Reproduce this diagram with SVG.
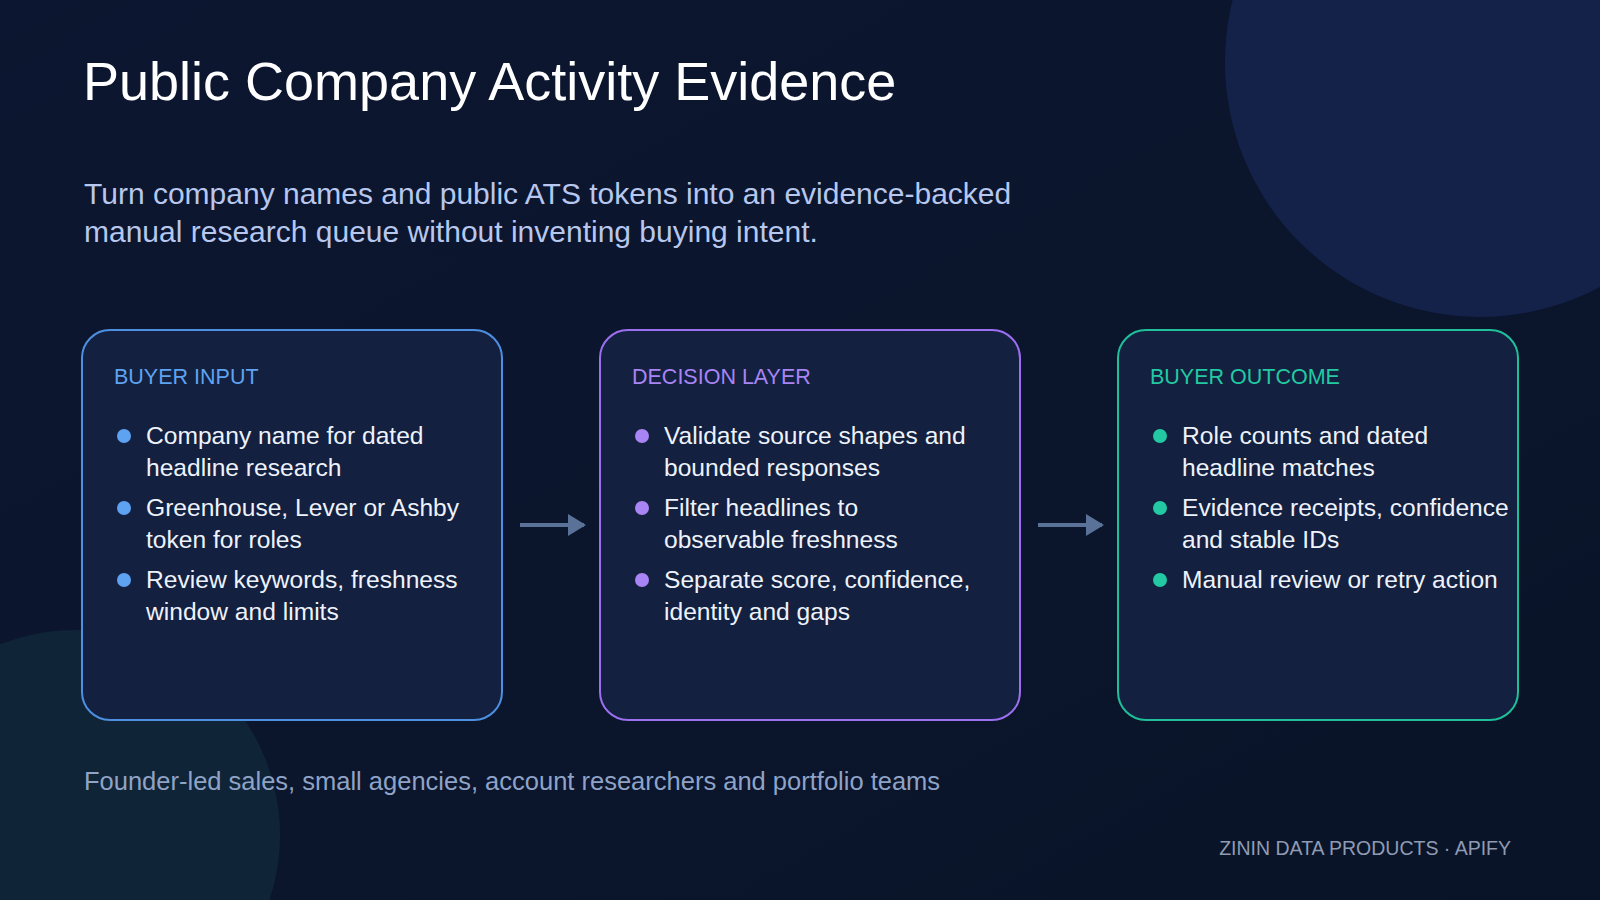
<svg xmlns="http://www.w3.org/2000/svg" width="1600" height="900" viewBox="0 0 1600 900">
<defs>
<linearGradient id="bg" x1="0" y1="0" x2="1" y2="1"><stop offset="0" stop-color="#0c1630"/><stop offset="1" stop-color="#0a1428"/></linearGradient>
<marker id="ah" markerWidth="18" markerHeight="22" refX="16" refY="11" orient="auto" markerUnits="userSpaceOnUse"><path d="M0,0 L18,11 L0,22 Z" fill="#5a7198"/></marker>
<style>
text{font-family:"Helvetica Neue","Liberation Sans",Arial,sans-serif}
.box{fill:#13203f;stroke-width:2}
.hd{font-size:21.5px}
.it{font-size:24.6px;fill:#eef2fb}
.conn{stroke:#5a7198;stroke-width:4;fill:none}
</style>
</defs>
<rect width="1600" height="900" fill="url(#bg)"/>
<circle cx="1480" cy="62" r="255" fill="#14224a"/>
<circle cx="75" cy="835" r="205" fill="#10283a" opacity="0.8"/>
<text x="83" y="100" font-size="54" fill="#ffffff">Public Company Activity Evidence</text>
<text x="84" y="204" font-size="30" fill="#b7c7ee">Turn company names and public ATS tokens into an evidence-backed</text>
<text x="84" y="242" font-size="30" fill="#b7c7ee">manual research queue without inventing buying intent.</text>
<g id="n1">
<rect class="box" x="82" y="330" width="420" height="390" rx="28" stroke="#4d8fe0"/>
<text class="hd" x="114" y="384" fill="#5ea3f2">BUYER INPUT</text>
<g fill="#5ea3f2"><circle cx="124" cy="436" r="7"/><circle cx="124" cy="508" r="7"/><circle cx="124" cy="580" r="7"/></g>
<text class="it" x="146" y="444">Company name for dated</text><text class="it" x="146" y="476">headline research</text>
<text class="it" x="146" y="516">Greenhouse, Lever or Ashby</text><text class="it" x="146" y="548">token for roles</text>
<text class="it" x="146" y="588">Review keywords, freshness</text><text class="it" x="146" y="620">window and limits</text>
</g>
<g id="n2">
<rect class="box" x="600" y="330" width="420" height="390" rx="28" stroke="#9b6ff0"/>
<text class="hd" x="632" y="384" fill="#a884f5">DECISION LAYER</text>
<g fill="#a884f5"><circle cx="642" cy="436" r="7"/><circle cx="642" cy="508" r="7"/><circle cx="642" cy="580" r="7"/></g>
<text class="it" x="664" y="444">Validate source shapes and</text><text class="it" x="664" y="476">bounded responses</text>
<text class="it" x="664" y="516">Filter headlines to</text><text class="it" x="664" y="548">observable freshness</text>
<text class="it" x="664" y="588">Separate score, confidence,</text><text class="it" x="664" y="620">identity and gaps</text>
</g>
<g id="n3">
<rect class="box" x="1118" y="330" width="400" height="390" rx="28" stroke="#1fbf9a"/>
<text class="hd" x="1150" y="384" fill="#22c9a2">BUYER OUTCOME</text>
<g fill="#22c9a2"><circle cx="1160" cy="436" r="7"/><circle cx="1160" cy="508" r="7"/><circle cx="1160" cy="580" r="7"/></g>
<text class="it" x="1182" y="444">Role counts and dated</text><text class="it" x="1182" y="476">headline matches</text>
<text class="it" x="1182" y="516">Evidence receipts, confidence</text><text class="it" x="1182" y="548">and stable IDs</text>
<text class="it" x="1182" y="588">Manual review or retry action</text>
</g>
<g id="connectors">
<line class="conn" x1="520" y1="525" x2="584" y2="525" marker-end="url(#ah)"/>
<line class="conn" x1="1038" y1="525" x2="1102" y2="525" marker-end="url(#ah)"/>
</g>
<text x="84" y="790" font-size="25.5" fill="#8fa3c7">Founder-led sales, small agencies, account researchers and portfolio teams</text>
<text x="1511" y="855" font-size="19.5" fill="#8f9bb3" text-anchor="end">ZININ DATA PRODUCTS · APIFY</text>
</svg>
